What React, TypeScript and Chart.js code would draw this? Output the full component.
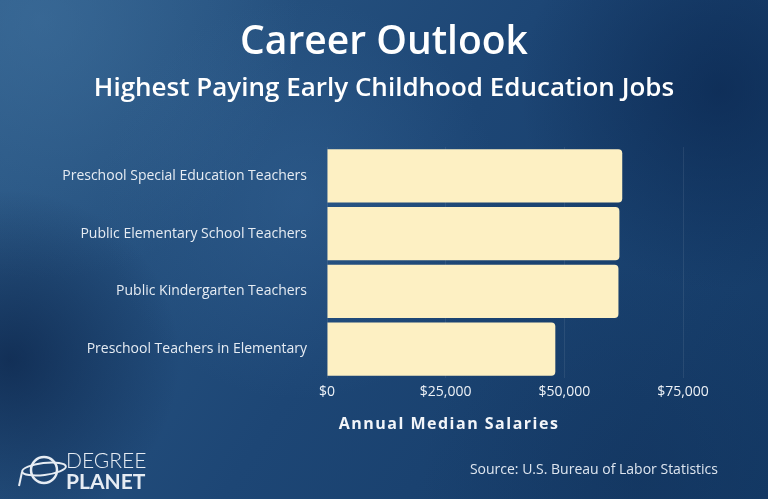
import React, { useEffect, useRef } from "react";
import { Chart, registerables } from "chart.js";

Chart.register(...registerables);

const categories = [
  "Preschool Special Education Teachers",
  "Public Elementary School Teachers",
  "Public Kindergarten Teachers",
  "Preschool Teachers in Elementary",
];
const salaries = [62200, 61600, 61400, 48100];
const xTicks = [0, 25000, 50000, 75000];
const titleText = "Career Outlook";
const subtitleText = "Highest Paying Early Childhood Education Jobs";
const axisTitleText = "Annual Median Salaries";
const sourceText = "Source: U.S. Bureau of Labor Statistics";

const W = 768;
const H = 499;

const bgPlugin = {
  id: "bg",
  beforeDraw(chart: any) {
    const ctx = chart.ctx;
    ctx.save();
    const lg = ctx.createLinearGradient(0, 0, W, H);
    lg.addColorStop(0, "#2d5b88");
    lg.addColorStop(0.5, "#1d4675");
    lg.addColorStop(1, "#143a66");
    ctx.fillStyle = lg;
    ctx.fillRect(0, 0, W, H);
    const blobs: [number, number, number, string][] = [
      [40, 20, 260, "rgba(70,120,165,0.45)"],
      [300, 200, 200, "rgba(60,110,160,0.35)"],
      [10, 360, 170, "rgba(5,25,60,0.6)"],
      [720, 90, 200, "rgba(8,35,75,0.6)"],
      [640, 480, 220, "rgba(15,45,85,0.35)"],
    ];
    for (const [x, y, r, c] of blobs) {
      const rg = ctx.createRadialGradient(x, y, 0, x, y, r);
      rg.addColorStop(0, c);
      rg.addColorStop(1, c.replace(/[\d.]+\)$/, "0)"));
      ctx.fillStyle = rg;
      ctx.fillRect(0, 0, W, H);
    }
    ctx.restore();
  },
};

const textPlugin = {
  id: "texts",
  afterDraw(chart: any) {
    const ctx = chart.ctx;
    ctx.save();
    ctx.fillStyle = "#ffffff";
    ctx.textAlign = "center";
    ctx.textBaseline = "middle";
    ctx.font = "600 39px 'Open Sans'";
    ctx.fillText(titleText, 384, 43);
    ctx.font = "600 26px 'Open Sans'";
    ctx.fillText(subtitleText, 384, 89);

    ctx.fillStyle = "#f2f5f9";
    ctx.font = "bold 16px 'Open Sans'";
    (ctx as any).letterSpacing = "1.5px";
    ctx.fillText(axisTitleText, 449, 424);
    (ctx as any).letterSpacing = "0px";

    ctx.fillStyle = "#dde5ef";
    ctx.font = "14px 'Open Sans'";
    ctx.textAlign = "right";
    ctx.fillText(sourceText, 718, 470);

    // logo
    const cx = 44, cy = 470;
    ctx.strokeStyle = "#e6ecf3";
    ctx.lineWidth = 2.5;
    ctx.beginPath();
    ctx.arc(cx, cy, 13, 0, Math.PI * 2);
    ctx.stroke();
    ctx.lineWidth = 2;
    ctx.beginPath();
    ctx.ellipse(cx, cy - 1, 22, 6, -0.12, 0, Math.PI * 2);
    ctx.stroke();
    ctx.beginPath();
    ctx.moveTo(cx - 22, cy + 2);
    ctx.lineTo(cx - 25, cy + 16);
    ctx.stroke();
    ctx.fillStyle = "#e6ecf3";
    ctx.textAlign = "left";
    ctx.font = "300 21px Lato";
    ctx.fillText("DEGREE", 66, 461);
    ctx.font = "bold 21px Lato";
    ctx.fillText("PLANET", 66, 482);
    ctx.restore();
  },
};

export default function App() {
  const ref = useRef<HTMLCanvasElement>(null);
  useEffect(() => {
    document.body.style.margin = "0";
    const chart = new Chart(ref.current!, {
      type: "bar",
      data: {
        labels: categories,
        datasets: [
          {
            data: salaries,
            backgroundColor: "#fdf0c3",
            borderRadius: 4,
            borderSkipped: "start",
            barPercentage: 0.925,
            categoryPercentage: 1,
          },
        ],
      },
      options: {
        indexAxis: "y",
        responsive: false,
        animation: false,
        layout: { padding: { top: 147, right: 85, bottom: 0, left: 0 } },
        plugins: { legend: { display: false }, tooltip: { enabled: false }, title: { display: false } },
        scales: {
          x: {
            min: 0,
            max: 75000,
            afterBuildTicks(scale: any) {
              scale.ticks = xTicks.map((v) => ({ value: v }));
            },
            afterFit(scale: any) {
              scale.height = H - 378;
            },
            grid: { color: "rgba(255,255,255,0.08)", drawTicks: false },
            border: { display: false },
            ticks: {
              color: "#eef2f7",
              font: { family: "'Open Sans'", size: 14 },
              padding: 6,
              maxRotation: 0,
              callback: (v: any) => "$" + Number(v).toLocaleString("en-US"),
            },
          },
          y: {
            afterFit(scale: any) {
              scale.width = 327;
            },
            grid: { display: false, drawTicks: false },
            border: { display: false },
            ticks: {
              color: "#e6ecf3",
              font: { family: "'Open Sans'", size: 14 },
              padding: 20,
            },
          },
        },
      },
      plugins: [bgPlugin, textPlugin],
    });
    return () => chart.destroy();
  }, []);
  return (
    <div style={{ position: "fixed", left: 0, top: 0, width: W, height: H }}>
      <canvas ref={ref} width={W} height={H} style={{ display: "block" }} />
    </div>
  );
}
